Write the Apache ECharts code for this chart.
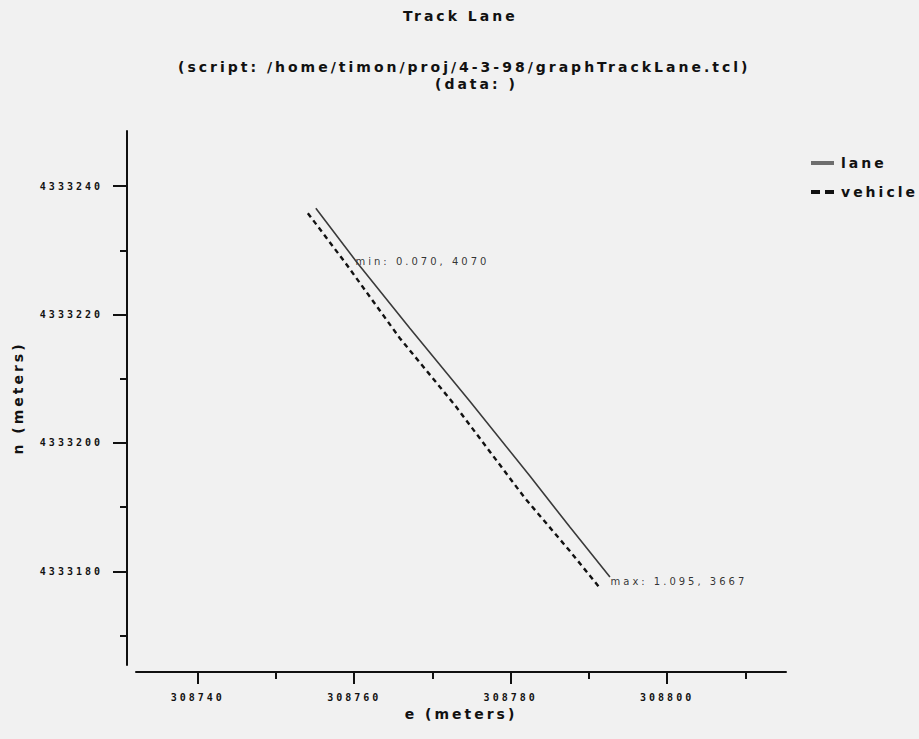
<!DOCTYPE html>
<html>
<head>
<meta charset="utf-8">
<script src="https://cdn.jsdelivr.net/npm/echarts@6/dist/echarts.min.js"></script>
<style>
html,body{margin:0;padding:0;background:#f1f1f1;}
#c{width:919px;height:739px;}
#c svg text{letter-spacing:3px;}
</style>
</head>
<body>
<div id="c"></div>
<script>
// ---- data ----
var laneE = [308755.09, 308760.33, 308767.11, 308774.78, 308782.46, 308787.57, 308792.69];
var laneN = [4333236.57, 4333228.16, 4333217.88, 4333206.51, 4333194.83, 4333186.89, 4333179.10];
var vehE  = [308754.07, 308758.80, 308765.83, 308772.86, 308781.82, 308787.57, 308791.41];
var vehN  = [4333235.79, 4333228.16, 4333216.32, 4333205.89, 4333191.40, 4333183.15, 4333177.38];
var noteE = [308760.1, 308792.7];
var noteN = [4333228.2, 4333179.1];
var noteText = ['min: 0.070, 4070', 'max: 1.095, 3667'];
var xMajor = [308740, 308760, 308780, 308800];
var xMinor = [308750, 308770, 308790, 308810];
var yMajor = [4333180, 4333200, 4333220, 4333240];
var yMinor = [4333170, 4333190, 4333210, 4333230];
var xRange = [308732.1, 308815.2];
var yRange = [4333165.4, 4333248.6];

function pairs(a, b) { return a.map(function (v, i) { return [v, b[i]]; }); }

var chart = echarts.init(document.getElementById('c'), null, {renderer: 'svg'});
var axisTxt = {fontFamily: 'DejaVu Sans Mono', fontWeight: 'bold', fontSize: 10, color: '#111'};
var nameTxt = {fontFamily: 'DejaVu Sans', fontWeight: 'bold', fontSize: 14, color: '#111'};
var headTxt = {fontFamily: 'DejaVu Sans', fontWeight: 'bold', fontSize: 14, color: '#111'};

chart.setOption({
  backgroundColor: '#f1f1f1',
  animation: false,
  title: [
    {text: 'Track Lane', left: 398, top: 4, textStyle: headTxt},
    {text: '(script: /home/timon/proj/4-3-98/graphTrackLane.tcl)', left: 173, top: 55, textStyle: headTxt},
    {text: '(data: )', left: 430, top: 72, textStyle: headTxt}
  ],
  legend: {
    orient: 'vertical', left: 806, top: 151, itemGap: 15, itemWidth: 23, itemHeight: 4,
    textStyle: {fontFamily: 'DejaVu Sans', fontWeight: 'bold', fontSize: 14, color: '#111', padding: [0, 0, 0, 2]},
    data: [
      {name: 'lane', icon: 'rect', itemStyle: {color: '#6e6e6e'}},
      {name: 'vehicle', icon: 'path://M0,0H9V4H0Z M14,0H23V4H14Z', itemStyle: {color: '#111'}}
    ]
  },
  grid: {left: 136, right: 133, top: 131, bottom: 74, containLabel: false},
  xAxis: [
    {type: 'value', min: xRange[0], max: xRange[1], offset: 7,
     name: 'e (meters)', nameLocation: 'middle', nameGap: 32, nameTextStyle: nameTxt,
     axisLine: {show: true, lineStyle: {color: '#111', width: 2}},
     axisTick: {show: true, customValues: xMajor, length: 12, lineStyle: {color: '#111', width: 2}},
     axisLabel: {show: true, customValues: xMajor, margin: 20, formatter: function (v) { return String(v); }, ...axisTxt},
     splitLine: {show: false}},
    {type: 'value', min: xRange[0], max: xRange[1], offset: 7, position: 'bottom',
     axisLine: {show: false},
     axisTick: {show: true, customValues: xMinor, length: 7, lineStyle: {color: '#111', width: 2}},
     axisLabel: {show: false}, splitLine: {show: false}}
  ],
  yAxis: [
    {type: 'value', min: yRange[0], max: yRange[1], offset: 9,
     name: 'n (meters)', nameLocation: 'middle', nameGap: 102, nameTextStyle: nameTxt,
     axisLine: {show: true, lineStyle: {color: '#111', width: 2}},
     axisTick: {show: true, customValues: yMajor, length: 14, lineStyle: {color: '#111', width: 2}},
     axisLabel: {show: true, customValues: yMajor, margin: 24, formatter: function (v) { return String(v); }, ...axisTxt},
     splitLine: {show: false}},
    {type: 'value', min: yRange[0], max: yRange[1], offset: 9, position: 'left',
     axisLine: {show: false},
     axisTick: {show: true, customValues: yMinor, length: 7, lineStyle: {color: '#111', width: 2}},
     axisLabel: {show: false}, splitLine: {show: false}}
  ],
  series: [
    {name: 'lane', type: 'line', data: pairs(laneE, laneN), symbol: 'none',
     lineStyle: {color: '#3a3a3a', width: 1.6}, itemStyle: {color: '#6e6e6e'}},
    {name: 'vehicle', type: 'line', data: pairs(vehE, vehN), symbol: 'none',
     lineStyle: {color: '#111', width: 2.4, type: [5, 4]}, itemStyle: {color: '#111'}},
    {name: 'notes', type: 'scatter', data: pairs(noteE, noteN), symbolSize: 1,
     itemStyle: {color: 'rgba(0,0,0,0)'}, silent: true,
     label: {show: true, position: 'right', distance: 0,
       formatter: function (p) { return noteText[p.dataIndex]; },
       fontFamily: 'DejaVu Sans', fontSize: 10, color: '#000', textBorderWidth: 0},
     labelLayout: function (p) { return p.dataIndex === 1 ? {dy: 4} : {}; }}
  ]
});
</script>
</body>
</html>
